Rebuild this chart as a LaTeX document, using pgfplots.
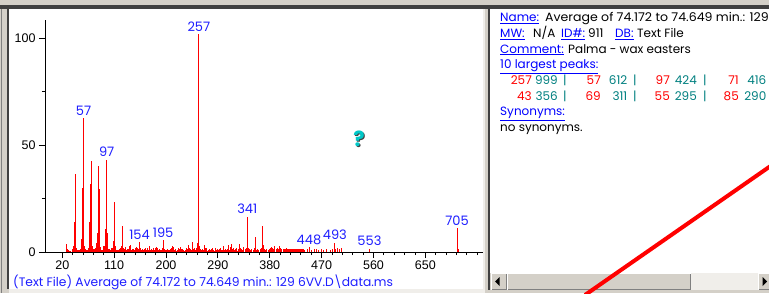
\documentclass[border=0pt]{standalone}
\usepackage{pgfplots}
\pgfplotsset{compat=1.18}
\usepackage{pgfplotstable}
\usepackage{fontspec}
\setmainfont{Poppins}
\newfontfamily\tickfont{Liberation Sans}
\definecolor{winbg}{RGB}{212,208,200}
\definecolor{windark}{RGB}{64,64,64}
\definecolor{wingray}{RGB}{128,128,128}
\definecolor{winlight}{RGB}{240,238,234}
\definecolor{lblblue}{RGB}{30,30,255}
\definecolor{linkblue}{RGB}{0,0,255}
\definecolor{tealnum}{RGB}{0,128,128}
\definecolor{specred}{RGB}{255,0,0}
\definecolor{qcyan}{RGB}{0,200,200}

\pgfplotstableread[row sep=\\]{
mz int\\
27 3.7\\ 28 2\\ 29 1.5\\ 30 0.5\\ 31 1\\ 32 0.5\\ 33 0.5\\ 35 0.5\\ 37 1\\ 38 1.5\\ 39 3\\ 40 1\\
41 14\\ 42 4\\ 43 36.3\\ 44 2\\ 45 1.5\\ 46 0.8\\ 47 1\\ 48 0.8\\ 49 1\\ 50 1\\ 51 1.5\\ 52 1\\
53 4\\ 54 6\\ 55 30.1\\ 56 9\\ 57 62.5\\ 58 3\\ 59 1.5\\ 60 1.5\\ 61 1\\ 62 1\\ 63 1\\ 64 1\\
65 2\\ 66 2\\ 67 14\\ 68 6\\ 69 31.8\\ 70 6\\ 71 42.5\\ 72 3\\ 73 2.5\\ 74 1.5\\ 75 1.5\\ 76 1\\
77 2\\ 78 1.5\\ 79 4\\ 80 2\\ 81 9\\ 82 7\\ 83 40.3\\ 84 8\\ 85 29.6\\ 86 2.5\\ 87 1.5\\ 88 1\\
89 1\\ 90 1\\ 91 3\\ 92 1.5\\ 93 3\\ 94 2\\ 95 11\\ 96 6\\ 97 43.3\\ 98 9\\ 99 7\\ 100 1.5\\
101 1.5\\ 102 1\\ 103 1\\ 104 1\\ 105 2\\ 106 1.5\\ 107 2\\ 108 2\\ 109 5\\ 110 3\\ 111 23.5\\ 112 3\\
113 2\\ 114 1\\ 115 1\\ 116 1\\ 117 1\\ 118 1\\ 119 1.5\\ 120 1\\ 121 2\\ 122 1.5\\ 123 3\\ 124 2\\
125 12.2\\ 126 2\\ 127 1.5\\ 128 1\\ 129 2.5\\ 130 1\\ 131 1\\ 132 1\\ 133 1.5\\ 134 1\\ 135 1.5\\ 136 1\\
137 3\\ 138 1.5\\ 139 3.5\\ 140 1\\ 141 1.5\\ 142 0.8\\ 143 1.2\\ 144 0.8\\ 145 1\\ 146 0.8\\ 147 2\\ 148 0.8\\
149 2.5\\ 150 1\\ 151 2\\ 152 1.2\\ 153 1.5\\ 154 4.5\\ 155 2\\ 156 0.8\\ 157 1\\ 158 0.8\\ 159 1.2\\ 160 0.7\\
161 1\\ 162 0.8\\ 163 1.5\\ 164 0.8\\ 165 2\\ 166 0.8\\ 167 1.2\\ 168 2\\ 169 1\\ 170 0.8\\ 171 3\\ 172 0.8\\
173 1\\ 174 0.7\\ 175 1.2\\ 176 0.7\\ 177 1\\ 178 0.8\\ 179 2\\ 180 0.8\\ 181 2\\ 182 0.8\\ 183 2.5\\ 184 0.8\\
185 2\\ 186 0.7\\ 187 1\\ 188 0.7\\ 189 1.2\\ 190 0.7\\ 191 1\\ 192 0.8\\ 193 2\\ 194 1\\ 195 5.6\\ 196 1.2\\
197 1.5\\ 198 0.7\\ 199 1\\ 200 0.7\\ 201 1\\ 202 0.8\\ 203 1.2\\ 204 0.7\\ 205 1\\ 206 0.8\\ 207 1.5\\ 208 0.8\\
209 2\\ 210 0.8\\ 211 3\\ 212 1\\ 213 2.5\\ 214 0.8\\ 215 1\\ 216 0.7\\ 217 1.2\\ 218 0.7\\ 219 1\\ 220 0.8\\
221 2\\ 222 0.8\\ 223 1.5\\ 224 0.8\\ 225 2.5\\ 226 0.8\\ 227 1.2\\ 228 0.7\\ 229 1.5\\ 230 0.7\\ 231 1\\ 232 0.7\\
233 1\\ 234 0.8\\ 235 2\\ 236 0.8\\ 237 1.2\\ 238 0.8\\ 239 3.5\\ 240 1\\ 241 2\\ 242 0.8\\ 243 1.5\\ 244 0.8\\
245 4.5\\ 246 1\\ 247 1.2\\ 248 0.7\\ 249 2\\ 250 0.8\\ 251 1\\ 252 0.8\\ 253 2\\ 254 1\\ 255 4\\ 256 10.3\\
257 102\\ 258 3\\ 259 1.5\\ 260 0.7\\ 261 1\\ 262 0.7\\ 263 1.2\\ 264 0.7\\ 265 1\\ 266 0.8\\ 267 3.5\\ 268 1\\
269 2\\ 270 0.7\\ 271 2\\ 272 0.7\\ 273 1\\ 274 0.7\\ 275 1.5\\ 276 0.7\\ 277 1\\ 278 0.7\\ 279 1.2\\ 280 0.7\\
281 2\\ 282 0.7\\ 283 1\\ 284 0.7\\ 285 2\\ 286 0.7\\ 287 1\\ 288 0.7\\ 289 1.5\\ 290 0.7\\ 291 1\\ 292 0.7\\
293 1.2\\ 294 0.7\\ 295 2\\ 296 0.7\\ 297 1\\ 298 0.8\\ 299 3\\ 300 0.8\\ 301 1\\ 302 0.7\\ 303 1.5\\ 304 0.7\\
305 1\\ 306 0.7\\ 307 1.2\\ 308 0.8\\ 309 3.5\\ 310 0.8\\ 311 2.5\\ 312 0.8\\ 313 3.7\\ 314 0.8\\ 315 1.2\\ 316 0.7\\
317 2\\ 318 0.7\\ 319 1\\ 320 0.7\\ 321 1.2\\ 322 0.7\\ 323 2\\ 324 0.7\\ 325 1.5\\ 326 0.8\\ 327 3.7\\ 328 1\\
329 2\\ 330 0.8\\ 331 1.5\\ 332 0.7\\ 333 1\\ 335 2.5\\ 337 1.2\\ 339 2\\ 341 16.5\\ 342 4.5\\ 343 2\\ 345 1.2\\
347 1\\ 349 1.5\\ 351 1\\ 353 2\\ 355 7\\ 356 2\\ 357 1\\ 359 1.2\\ 361 1\\ 363 1.5\\ 365 2\\ 367 3\\
368 12.2\\ 369 3.5\\ 370 1\\ 371 1.5\\ 373 1\\ 375 1.2\\ 377 1\\ 379 1.5\\ 381 2\\ 383 2.5\\ 385 2\\ 387 1.2\\
389 3\\ 391 1.5\\ 393 2\\ 395 1.5\\ 397 3\\ 399 2\\ 401 1.5\\ 403 1.5\\ 405 1.2\\ 407 1.5\\ 409 2\\ 411 1.5\\
413 1.5\\ 414 1.5\\ 415 1.5\\ 416 1.5\\ 417 1.5\\ 418 1.5\\ 419 1.5\\ 420 1.5\\ 421 1.5\\ 422 1.5\\ 423 1.5\\ 424 1.5\\
425 1.5\\ 426 1.5\\ 427 1.5\\ 428 1.5\\ 429 1.5\\ 430 1.5\\ 431 1.5\\ 432 1.5\\ 433 1.5\\ 434 1.5\\ 435 1.5\\ 436 1.5\\
437 1.5\\ 438 1.5\\ 441 1\\ 445 1.5\\ 448 2.2\\ 449 1.5\\ 453 1\\ 457 1.2\\ 461 1.3\\ 465 1\\ 469 1.3\\ 473 1\\
479 1.3\\ 485 1\\ 489 1.2\\ 493 4.4\\ 494 1.5\\ 497 2\\ 501 1.5\\ 505 2\\ 553 1.5\\ 705 11.2\\ 706 5.6\\ 707 1.5\\
}\spectrum

\newcommand{\ptxt}{\fontsize{12}{14}\selectfont}
\newcommand{\lbltxt}{\fontsize{13}{15}\selectfont}

\begin{document}
\begin{tikzpicture}
\useasboundingbox (0,0) rectangle (769pt,293pt);
\begin{scope}
\clip (0,0) rectangle (769pt,293pt);
\fill[winbg] (0,0) rectangle (769pt,293pt);
% ---------- window frame (pixel coordinates, y downwards)
\begin{scope}[x=1pt,y=-1pt,shift={(0pt,293pt)}]
  \fill[windark] (0,5) rectangle (769,9);
  \fill[wingray] (1,9) rectangle (2,293);
  \fill[windark] (7,9) rectangle (9,289);
  \fill[white] (9,9) rectangle (483,289);
  \fill[winlight] (9,289) rectangle (483,293);
  \fill[winlight] (483,9) rectangle (485,293);
  \fill[windark] (488,9) rectangle (490,290);
  \fill[white] (490,9) rectangle (769,273);
  % scrollbar
  \fill[winlight] (691,273) rectangle (758,290);
  \foreach \a/\b in {491/507,507/691,758/775}{
    \fill[winbg] (\a,273) rectangle (\b,290);
    \draw[white,line width=1pt] (\a+0.5,289.5) -- (\a+0.5,273.5) -- (\b-0.5,273.5);
    \draw[wingray,line width=1pt] (\a+0.5,289.5) -- (\b-0.5,289.5) -- (\b-0.5,273.5);
  }
  \fill[black] (495,281.5) -- (499.5,277) -- (499.5,286) -- cycle;
  \fill[black] (767,281.5) -- (762.5,277) -- (762.5,286) -- cycle;
\end{scope}
% ---------- spectrum
\begin{axis}[
  at={(45pt,41pt)}, anchor=south west,
  width=438pt, height=232pt, scale only axis,
  xmin=-10, xmax=750, ymin=0, ymax=108.6,
  axis lines=left, axis line style={-, black, line width=0.8pt},
  xtick={20,110,...,650}, minor xtick={20,38,...,740},
  ytick={0,50,100}, minor ytick={25,75},
  tick align=outside, major tick length=6pt, minor tick length=3pt,
  tick style={black, line width=0.8pt},
  tick label style={font=\tickfont\fontsize{12.5}{13}\selectfont},
  xticklabel style={yshift=1pt},
  /pgf/number format/assume math mode=true,
  clip=false,
]
\addplot[ycomb, specred, line width=0.9pt, no marks] table[x=mz,y=int]{\spectrum};
\foreach \m/\h in {257/102,57/62.5,97/43.3,154/4.5,195/5.6,341/16.5,448/2.2,493/4.4,553/1.5,705/11.2}{
  \edef\tmp{\noexpand\node[anchor=base, yshift=3pt, text=lblblue, font=\noexpand\lbltxt, inner sep=0pt] at (axis cs:\m,\h) {\m};}
  \tmp
}
\end{axis}
% ---------- texts and overlay (pixel coordinates)
\begin{scope}[x=1pt,y=-1pt,shift={(0pt,293pt)}]
  \node[anchor=base west, inner sep=0pt, text=lblblue, font=\fontsize{12.3}{14}\selectfont] at (13,286)
    {(Text File) Average of 74.172 to 74.649 min.: 129 6VV.D\textbackslash data.ms};
  \node[font=\fontsize{21}{21}\selectfont\bfseries, text=windark, inner sep=0pt] at (360,139.5) {?};
  \node[font=\fontsize{21}{21}\selectfont\bfseries, text=qcyan, inner sep=0pt] at (359,138.5) {?};
  \begin{scope}
  \clip (490,9) rectangle (769,273);
  \tikzset{t/.style={anchor=base west, inner sep=0pt, font=\ptxt},
           u/.style={t, text=linkblue},
           r/.style={anchor=base east, inner sep=0pt, font=\ptxt, text=specred},
           n/.style={anchor=base east, inner sep=0pt, font=\ptxt, text=tealnum},
           b/.style={anchor=base west, inner sep=0pt, font=\ptxt, text=tealnum}}
  \node[u] at (500,21.7) {\underline{Name:}};
  \node[t, xscale=1.045] at (545,21.7) {Average of 74.172 to 74.649 min.: 129};
  \node[u] at (500,37.4) {\underline{MW:}};
  \node[t] at (533,37.4) {N/A};
  \node[u] at (561,37.4) {\underline{ID\#:}};
  \node[t] at (588,37.4) {911};
  \node[u] at (615,37.4) {\underline{DB:}};
  \node[t] at (637,37.4) {Text File};
  \node[u] at (500,53.1) {\underline{Comment:}};
  \node[t] at (568,53.1) {Palma - wax easters};
  \node[u] at (500,68.8) {\underline{10 largest peaks:}};
  \foreach \c/\mz/\ab in {0/257/999,1/57/612,2/97/424,3/71/416}{
    \node[r] at (532+69*\c,84.5) {\mz};
    \node[n] at (558+69.5*\c,84.5) {\ab};
  }
  \foreach \c/\mz/\ab in {0/43/356,1/69/311,2/55/295,3/85/290}{
    \node[r] at (532+69*\c,100.2) {\mz};
    \node[n] at (558+69.5*\c,100.2) {\ab};
  }
  \foreach \c in {0,1,2}{
    \node[b] at (563+70*\c,84.5) {|};
    \node[b] at (563+70*\c,100.2) {|};
  }
  \node[u] at (500,115.9) {\underline{Synonyms:}};
  \node[t] at (500,131.2) {no synonyms.};
  \end{scope}
  \draw[specred, line width=4pt] (585,295) -- (772,165);
\end{scope}
\end{scope}
\end{tikzpicture}
\end{document}
